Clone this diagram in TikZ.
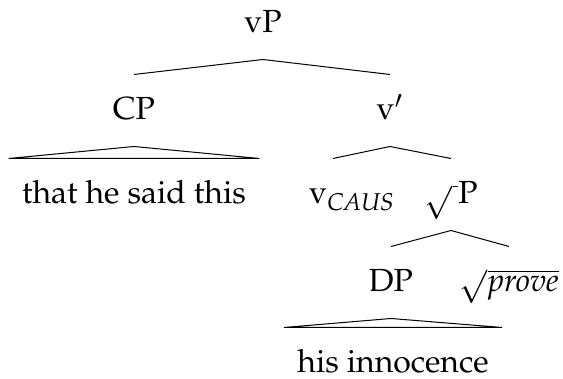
\documentclass[tikz,border=0pt]{standalone}
\usepackage[T1]{fontenc}
\usepackage{amsmath}
\usepackage{mathpazo}
\usepackage{tikz}
\usetikzlibrary{shapes,arrows,positioning}
\tikzstyle{cat} = [anchor=base, inner xsep=5.2pt, inner ysep=0pt, text height=18pt, text depth=10.4pt, font=\fontsize{12.8}{15}\selectfont]
\tikzstyle{line} = [draw]

\begin{document}
\begin{tikzpicture}[x=0.4pt, y=0.4pt]
			\useasboundingbox (0,0) rectangle (563,379);
			\node [cat] (vP) at (263, 346) {vP};
			\node [cat] (CP) at (134, 259) {CP};
			\node [cat] (vbar) at (390, 259) {v$'$};
			\node [cat] (that) at (134, 175) {that he said this};
			\node [cat] (vcaus) at (352, 175) {v$_{\mathit{CAUS}}$};
			\node [cat] (rootP) at (451, 175) {$\sqrt{\,}$P};
			\node [cat] (DP) at (391, 87) {DP};
			\node [cat] (prove) at (509, 87) {$\sqrt{\mathit{prove}}$};
			\node [cat] (innoc) at (393, 6) {his innocence};
			
			\path [line] (vP.south) -- (CP.north);
			\path [line] (vP.south) -- (vbar.north);
			\path [line] (vbar.south) -- ([xshift=-7.6pt]vcaus.north);
			\path [line] (vbar.south) -- (rootP.north);
			\path [line] (rootP.south) -- (DP.north);
			\path [line] (rootP.south) -- (prove.north);
			
			\path [line] (CP.south) -- (that.north west) -- (that.north east) -- cycle;
			\path [line] (DP.south) -- (innoc.north west) -- (innoc.north east) -- cycle;
		\end{tikzpicture}
\end{document}
